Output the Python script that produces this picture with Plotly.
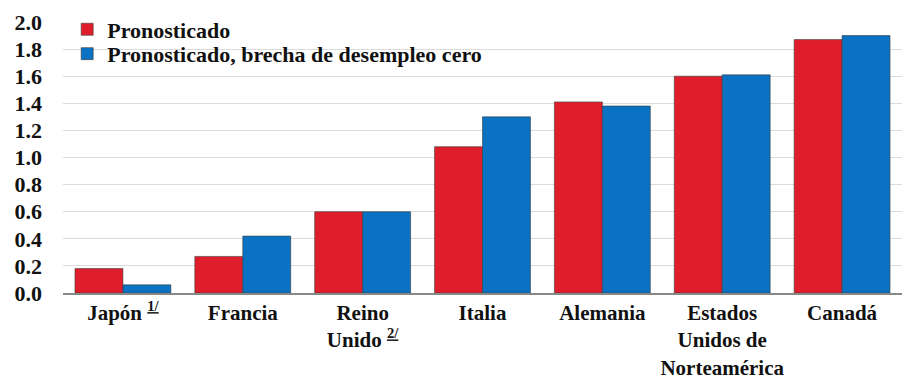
import plotly.graph_objects as go

categories = ["Japón <sup><u>1/</u></sup>", "Francia", "Reino<br>Unido <sup><u>2/</u></sup>", "Italia",
              "Alemania", "Estados<br>Unidos de<br>Norteamérica", "Canadá"]
pronosticado = [0.18, 0.27, 0.60, 1.08, 1.41, 1.60, 1.87]
brecha_cero = [0.06, 0.42, 0.60, 1.30, 1.38, 1.61, 1.90]
y_ticks = [0.0, 0.2, 0.4, 0.6, 0.8, 1.0, 1.2, 1.4, 1.6, 1.8, 2.0]

FONT = "Liberation Serif"

fig = go.Figure()
fig.add_trace(go.Bar(x=categories, y=pronosticado, name="<b>Pronosticado</b>", legend="legend",
                     marker=dict(color="#E01E2B", line=dict(color="#3a3a3a", width=0.6))))
fig.add_trace(go.Bar(x=categories, y=brecha_cero, name="<b>Pronosticado, brecha de desempleo cero</b>",
                     legend="legend2",
                     marker=dict(color="#0A72C2", line=dict(color="#3a3a3a", width=0.6))))

leg_common = dict(x=0.005, xanchor="left", yanchor="top", bgcolor="rgba(0,0,0,0)",
                  font=dict(family=FONT, size=22, color="#111"), itemwidth=30)
fig.update_layout(
    width=904, height=380,
    margin=dict(l=63, r=2, t=22, b=87),
    barmode="group", bargap=0.2, bargroupgap=0,
    plot_bgcolor="white", paper_bgcolor="white",
    font=dict(family=FONT, size=22, color="#111"),
    legend=dict(y=1.05, **leg_common),
    legend2=dict(y=0.96, **leg_common),
    showlegend=True,
)
fig.update_yaxes(range=[0, 2.0], tickvals=y_ticks, ticktext=[f"<b>{v:.1f}</b>" for v in y_ticks],
                 tickfont=dict(family=FONT, size=22, color="#111"),
                 showgrid=True, gridcolor="#dcdcdc", gridwidth=1, zeroline=False,
                 showline=False, ticks="", ticklabelstandoff=20, automargin=False)
fig.update_xaxes(tickvals=categories, ticktext=[f"<b>{c}</b>" for c in categories],
                 tickfont=dict(family=FONT, size=21, color="#111"),
                 showline=True, linecolor="#888", linewidth=1.5, ticks="", showgrid=False,
                 automargin=False)

fig.write_html("out.html")
